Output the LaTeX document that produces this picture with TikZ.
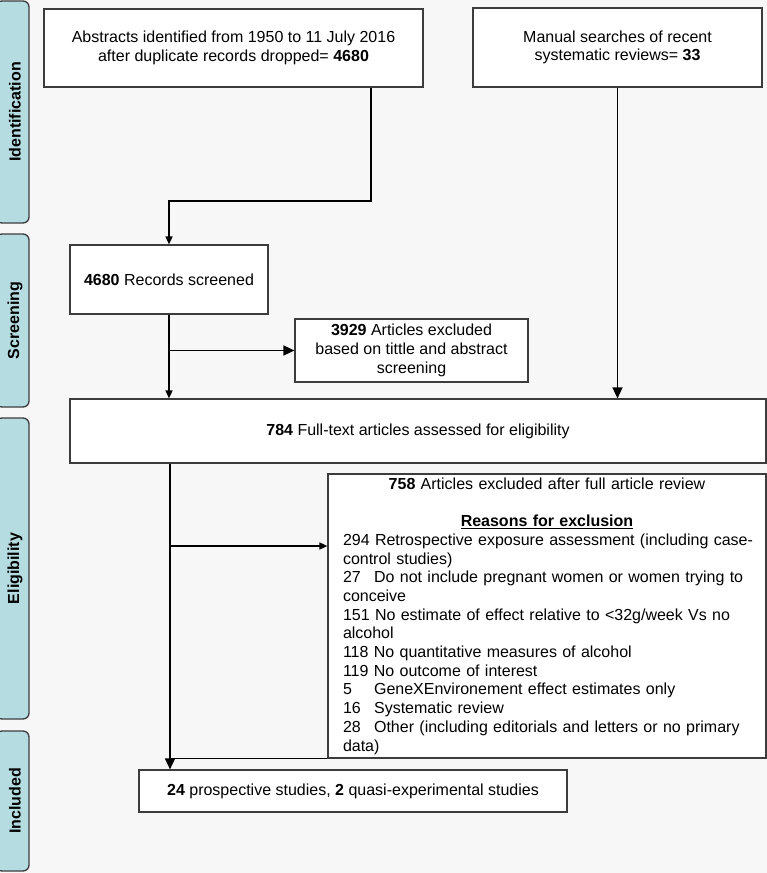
\documentclass[tikz,border=0pt]{standalone}
\usepackage{fontspec}
\setmainfont{Liberation Sans}
\usetikzlibrary{arrows.meta}
\definecolor{bgc}{HTML}{F7F7F7}
\definecolor{sidec}{HTML}{B5DDE1}
\definecolor{edgec}{HTML}{3C3C3C}
\newcommand\numcol[1]{\makebox[31.1pt][l]{#1}}
\newcommand\lline[1]{\makebox[408pt][l]{#1}}
\begin{document}
\begin{tikzpicture}[x=1pt,y=-1pt,
  every node/.style={font=\fontsize{16}{18.7}\selectfont},
  box/.style={draw=edgec, line width=1.2pt, fill=white, inner sep=0pt, align=center},
  side/.style={draw=edgec, line width=1.3pt, fill=sidec, rounded corners=6pt},
  sidetext/.style={rotate=90, font=\fontsize{16}{18.7}\selectfont\bfseries},
  conn/.style={line width=1.5pt, draw=black},
  bigarr/.style={conn, -{Triangle[length=11pt,width=10pt]}},
  smallarr/.style={conn, -{Triangle[length=8pt,width=7pt]}}]
\useasboundingbox (0,0) rectangle (767,873);
\fill[bgc] (0,0) rectangle (767,873);

% side bars
\draw[side] (-4,1) rectangle (29,223);
\draw[side] (-4,234) rectangle (29,407);
\draw[side] (-4,418) rectangle (29,719);
\draw[side] (-4,731) rectangle (29,871);
\node[sidetext] (s1) at (15,112) {Identification};
\node[sidetext] (s2) at (15,320.5) {Screening};
\node[sidetext] (s3) at (15,568.5) {Eligibility};
\node[sidetext] (s4) at (15,801) {Included};

% boxes
\node[box, minimum width=379pt, minimum height=78pt] (b1) at (233.5,48)
  {Abstracts identified from 1950 to 11 July 2016\\after duplicate records dropped= \textbf{4680}};
\node[box, minimum width=289pt, minimum height=79pt] (b2) at (617.5,47.5)
  {Manual searches of recent\\systematic reviews= \textbf{33}};
\node[box, minimum width=198pt, minimum height=69pt] (b3) at (169,279.5)
  {\textbf{4680} Records screened};
\node[box, minimum width=233pt, minimum height=63pt] (b4) at (411.5,350.5)
  {\textbf{3929} Articles excluded\\based on tittle and abstract\\screening};
\node[box, minimum width=696pt, minimum height=64pt] (b5) at (418,431)
  {\textbf{784} Full-text articles assessed for eligibility};
\node[box, inner xsep=15pt, text width=408pt, minimum width=438pt, minimum height=284pt] (b6) at (547,616)
  {\textbf{758} Articles excluded after full article review\\[18.7pt]
   \underline{\textbf{Reasons for exclusion}}\\
   \lline{294 Retrospective exposure assessment (including case-}\\
   \lline{control studies)}\\
   \lline{\numcol{27}Do not include pregnant women or women trying to}\\
   \lline{conceive}\\
   \lline{151 No estimate of effect relative to <32g/week Vs no}\\
   \lline{alcohol}\\
   \lline{118 No quantitative measures of alcohol}\\
   \lline{119 No outcome of interest}\\
   \lline{\numcol{5}GeneXEnvironement effect estimates only}\\
   \lline{\numcol{16}Systematic review}\\
   \lline{\numcol{28}Other (including editorials and letters or no primary}\\
   \lline{data)}};
\node[box, minimum width=428pt, minimum height=42pt] (b7) at (353,791)
  {\textbf{24} prospective studies, \textbf{2} quasi-experimental studies};

% connectors
\coordinate (j1) at (371,201);
\coordinate (k1) at (170,546);
\draw[smallarr] (b1.south -| j1) -- (j1) -| (b3.north);
\draw[bigarr] (b2.south) -- (b2.south |- b5.north);
\draw[smallarr] (b3.south) -- (b3.south |- b5.north);
\draw[bigarr] (b3.south |- b4.west) -- (b4.west);
\draw[bigarr] (b5.south -| k1) -- (k1 |- b7.north);
\draw[smallarr] (k1) -- (k1 -| b6.west);
\draw[conn, line width=1.2pt] (b6.south west) -- (b6.south west -| k1);
\end{tikzpicture}
\end{document}
